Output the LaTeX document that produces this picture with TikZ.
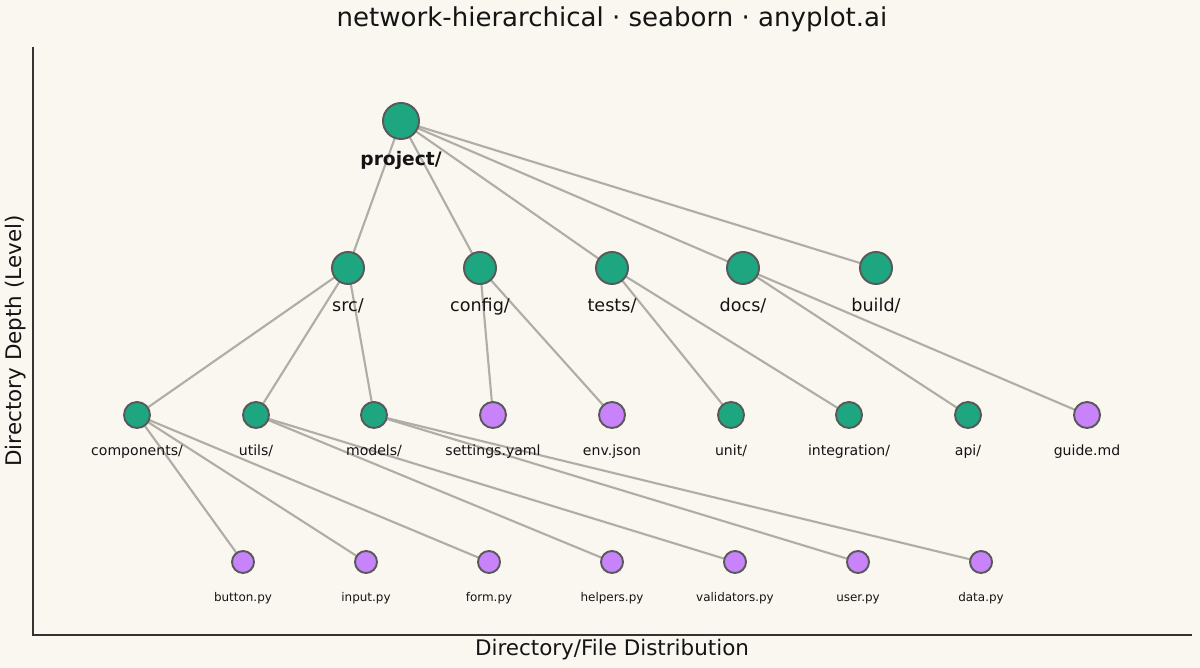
\documentclass[tikz,border=0pt]{standalone}
\usepackage{fontspec}
\setmainfont{DejaVu Sans}
\definecolor{bg}{RGB}{250,247,240}
\definecolor{dgreen}{RGB}{30,166,128}
\definecolor{lpurp}{RGB}{200,130,250}
\definecolor{edgec}{RGB}{176,172,166}
\definecolor{txt}{RGB}{20,20,20}
\begin{document}
\begin{tikzpicture}[x=0.01cm,y=-0.01cm,
  dir/.style={circle,draw=black!65,line width=0.55pt,fill=dgreen,inner sep=0pt},
  fil/.style={circle,draw=black!65,line width=0.55pt,fill=lpurp,inner sep=0pt},
  l0/.style={minimum size=0.36cm},
  l1/.style={minimum size=0.32cm},
  l2/.style={minimum size=0.26cm},
  l3/.style={minimum size=0.22cm},
  edge/.style={draw=edgec,line width=0.6pt},
  lab/.style={text=txt,inner sep=0pt}]
\fill[bg] (0,0) rectangle (1200,668);
\useasboundingbox (0,0) rectangle (1200,668);
\draw[black!80,line width=0.5pt] (33,47) -- (33,635) -- (1192,635);
\node[lab,font=\fontsize{7.4pt}{8pt}\selectfont] (title) at (612,19) {network-hierarchical · seaborn · anyplot.ai};
\node[lab,font=\fontsize{6.1pt}{7pt}\selectfont] (xl) at (612,650) {Directory/File Distribution};
\node[lab,font=\fontsize{6.1pt}{7pt}\selectfont,rotate=90] (yl) at (16,341) {Directory Depth (Level)};
\foreach \n/\p in {project/{401,121},src/{348,268},config/{480,268},tests/{612,268},docs/{743,268},build/{876,268},
  comp/{137,415},utils/{256,415},models/{374,415},settings/{493,415},env/{612,415},unit/{731,415},integ/{849,415},api/{968,415},guide/{1087,415},
  button/{243,562},input/{366,562},form/{489,562},helpers/{612,562},valid/{735,562},user/{858,562},data/{981,562}}
  {\coordinate (\n) at (\p);}
\foreach \a/\b in {project/src,project/config,project/tests,project/docs,project/build,
  src/comp,src/utils,src/models,config/settings,config/env,tests/unit,tests/integ,docs/api,docs/guide,
  comp/button,comp/input,comp/form,utils/helpers,utils/valid,models/user,models/data}
  {\draw[edge] (\a) -- (\b);}
\foreach \n/\s/\t in {project/dir/l0,src/dir/l1,config/dir/l1,tests/dir/l1,docs/dir/l1,build/dir/l1,
  comp/dir/l2,utils/dir/l2,models/dir/l2,settings/fil/l2,env/fil/l2,unit/dir/l2,integ/dir/l2,api/dir/l2,guide/fil/l2,
  button/fil/l3,input/fil/l3,form/fil/l3,helpers/fil/l3,valid/fil/l3,user/fil/l3,data/fil/l3}
  {\node[\s,\t] (n\n) at (\n) {};}
\node[lab,anchor=base,font=\bfseries\fontsize{5.3pt}{6pt}\selectfont] (tproject) at (401,166) {project/};
\foreach \n/\x/\t in {src/348/{src/},config/480/{config/},tests/612/{tests/},docs/743/{docs/},build/876/{build/}}
  {\node[lab,anchor=base,font=\fontsize{5pt}{6pt}\selectfont] (t\n) at (\x,312) {\t};}
\foreach \n/\x/\t in {comp/137/{components/},utils/256/{utils/},models/374/{models/},settings/493/{settings.yaml},env/612/{env.json},unit/731/{unit/},integ/849/{integration/},api/968/{api/},guide/1087/{guide.md}}
  {\node[lab,anchor=base,font=\fontsize{4pt}{5pt}\selectfont] (t\n) at (\x,456) {\t};}
\foreach \n/\x/\t in {button/243/{button.py},input/366/{input.py},form/489/{form.py},helpers/612/{helpers.py},valid/735/{validators.py},user/858/{user.py},data/981/{data.py}}
  {\node[lab,anchor=base,font=\fontsize{3.4pt}{4pt}\selectfont] (t\n) at (\x,602) {\t};}
\end{tikzpicture}
\end{document}
